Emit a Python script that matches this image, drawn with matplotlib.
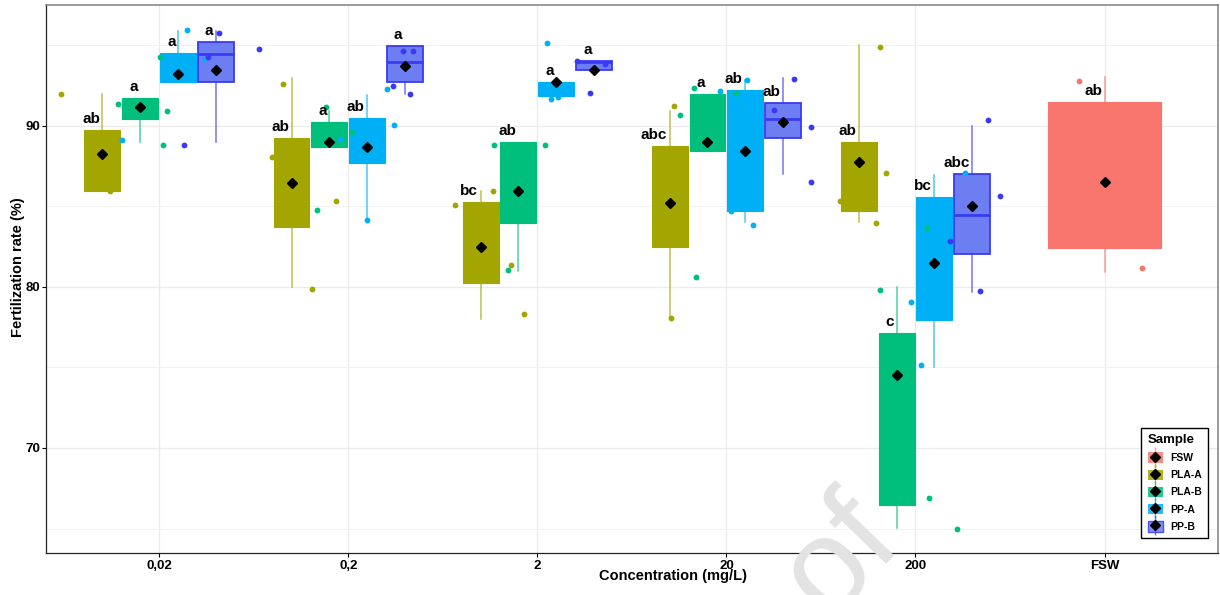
import matplotlib
matplotlib.use('Agg')
import matplotlib.pyplot as plt
from matplotlib.patches import Rectangle
from matplotlib.lines import Line2D
from matplotlib.legend_handler import HandlerTuple

plt.rcParams['font.family'] = ['Liberation Sans', 'DejaVu Sans']
plt.rcParams['font.weight'] = 'bold'

# ---------------- data ----------------
concentrations = ['0,02', '0,2', '2', '20', '200', 'FSW']
samples = ['PLA-A', 'PLA-B', 'PP-A', 'PP-B']
legend_order = ['FSW', 'PLA-A', 'PLA-B', 'PP-A', 'PP-B']

# box statistics for the 5 concentrations (0,02 .. 200)
whislo = {'PLA-A': [85.96, 80.02, 78.01, 78.06, 84.02],
          'PLA-B': [88.99, 88.70, 81.01, 88.45, 65.02],
          'PP-A':  [92.71, 84.16, 91.86, 84.02, 75.00],
          'PP-B':  [88.99, 91.99, 93.46, 87.00, 79.68]}
q1 = {'PLA-A': [85.96, 83.71, 80.23, 82.47, 84.73],
      'PLA-B': [90.43, 88.70, 83.96, 88.45, 66.47],
      'PP-A':  [92.71, 87.68, 91.86, 84.72, 77.96],
      'PP-B':  [92.71, 92.71, 93.46, 89.24, 82.04]}
med = {'PLA-A': [86.70, 86.50, 82.00, 85.00, 87.10],
       'PLA-B': [91.30, 89.00, 86.00, 89.00, 74.50],
       'PP-A':  [93.00, 88.70, 92.30, 88.50, 81.50],
       'PP-B':  [94.47, 93.99, 93.96, 90.43, 84.44]}
q3 = {'PLA-A': [89.75, 89.27, 85.28, 88.76, 89.03],
      'PLA-B': [91.72, 90.27, 88.99, 91.99, 77.14],
      'PP-A':  [94.52, 90.48, 92.71, 92.24, 85.56],
      'PP-B':  [95.20, 94.95, 94.02, 91.45, 87.00]}
whishi = {'PLA-A': [91.97, 92.96, 85.96, 90.93, 95.00],
          'PLA-B': [91.72, 90.95, 88.99, 91.99, 79.97],
          'PP-A':  [95.92, 91.93, 92.71, 92.84, 86.98],
          'PP-B':  [95.92, 94.95, 94.02, 92.96, 89.99]}
means = {'PLA-A': [88.24, 86.48, 82.48, 85.24, 87.74],
         'PLA-B': [91.20, 88.99, 85.98, 88.99, 74.51],
         'PP-A':  [93.21, 88.71, 92.71, 88.47, 81.50],
         'PP-B':  [93.46, 93.71, 93.46, 90.23, 85.02]}
letters = {'PLA-A': ['ab', 'ab', 'bc', 'abc', 'ab'],
           'PLA-B': ['a', 'a', 'ab', 'a', 'c'],
           'PP-A':  ['a', 'ab', 'a', 'ab', 'bc'],
           'PP-B':  ['a', 'a', 'a', 'ab', 'abc']}

# FSW control
fsw_stats = dict(whislo=80.92, q1=82.39, med=86.50, q3=91.50, whishi=93.02)
fsw_mean = 86.49
fsw_letter = 'ab'
fsw_points = [92.80, 81.17]
fsw_jitter = [-0.136, 0.199]

# individual (jittered) observations
points = {
    'PLA-A': [[91.97, 85.96], [92.59, 88.06, 85.36, 79.86], [85.09, 85.96, 81.37, 78.30],
              [91.26, 78.06], [94.91, 87.09, 85.33, 83.95]],
    'PLA-B': [[91.35, 90.95, 88.80, 94.29], [91.16, 89.61, 84.78], [88.84, 88.84, 81.06],
              [92.34, 90.68, 80.62, 92.05], [79.83, 66.89, 64.96, 83.64]],
    'PP-A':  [[95.96, 89.11, 94.14], [90.04, 84.14, 89.17, 92.32], [95.14, 91.66, 91.80],
              [92.84, 92.19, 83.85, 84.72], [79.08, 75.18, 87.07]],
    'PP-B':  [[95.76, 94.30, 88.80, 94.78], [94.66, 94.66, 92.47, 91.97], [94.04, 93.83, 92.07],
              [92.92, 90.98, 89.94, 86.50], [90.37, 85.65, 82.84, 79.72]],
}
jitter = {
    'PLA-A': [[-0.52, -0.262], [-0.347, -0.402, -0.065, -0.190], [-0.434, -0.236, -0.141, -0.069],
              [-0.276, -0.293], [-0.188, -0.158, -0.400, -0.211]],
    'PLA-B': [[-0.217, 0.039, 0.021, 0.007], [-0.120, 0.021, -0.167], [-0.228, 0.040, -0.157],
              [-0.173, -0.244, -0.160, 0.052], [-0.188, 0.072, 0.217, 0.062]],
    'PP-A':  [[0.145, -0.196, 0.242], [0.243, 0.100, -0.044, 0.205], [0.051, 0.072, 0.111],
              [0.108, -0.033, 0.142, 0.024], [-0.026, 0.029, 0.260]],
    'PP-B':  [[0.317, 0.259, 0.131, 0.527], [0.291, 0.341, 0.236, 0.325], [0.208, 0.359, 0.278],
              [0.355, 0.253, 0.448, 0.445], [0.384, 0.448, 0.182, 0.342]],
}

# ---------------- style ----------------
fill = {'FSW': '#F8766D', 'PLA-A': '#A3A500', 'PLA-B': '#00BF7D', 'PP-A': '#00B0F6', 'PP-B': '#6D7EF2'}
edge = {'FSW': '#F8766D', 'PLA-A': '#A3A500', 'PLA-B': '#00BF7D', 'PP-A': '#00B0F6', 'PP-B': '#3A3AF5'}
dot = {'FSW': '#F8766D', 'PLA-A': '#A3A500', 'PLA-B': '#00BF7D', 'PP-A': '#00B0F6', 'PP-B': '#3A3AF5'}
offsets = [-0.3, -0.1, 0.1, 0.3]
box_w = 0.19

fig = plt.figure(figsize=(12.2, 5.95), dpi=100, facecolor='white')
W, H = 1220, 595
ax = fig.add_axes([45.7 / W, (H - 553.3) / H, (1218 - 45.7) / W, (553.3 - 4.7) / H])

# watermark (drawn on top, partly outside the figure like in the reference)
fig.text(828 / W, 1 - 620 / H, 'of', rotation=46, rotation_mode='anchor', fontsize=94,
         color='#E3E3E3', ha='left', va='baseline', fontweight='normal',
         family='Liberation Sans', zorder=10)

base = list(range(1, len(concentrations)))  # 1..5

for k, s in enumerate(samples):
    stats = []
    pos = []
    for i in range(5):
        stats.append(dict(whislo=whislo[s][i], q1=q1[s][i], med=med[s][i],
                          q3=q3[s][i], whishi=whishi[s][i], fliers=[]))
        pos.append(base[i] + offsets[k])
    lw_edge = 1.3 if s == 'PP-B' else 0.8
    ax.bxp(stats, positions=pos, widths=box_w, patch_artist=True,
           showfliers=False, showcaps=False, manage_ticks=False,
           boxprops=dict(facecolor=fill[s], edgecolor=edge[s], linewidth=lw_edge),
           medianprops=dict(color=edge[s], linewidth=2.0 if s == 'PP-B' else 0.8),
           whiskerprops=dict(color=edge[s], linewidth=1.1, alpha=0.7),
           zorder=2)
    ax.plot(pos, means[s], linestyle='None', marker='D', color='black', markersize=5.5, zorder=5)
    for i in range(5):
        xs = [base[i] + j for j in jitter[s][i]]
        ax.plot(xs, points[s][i], linestyle='None', marker='o', color=dot[s],
                markersize=4.2, markeredgewidth=0, zorder=4)
        ax.annotate(letters[s][i], (pos[i], q3[s][i]), xytext=(-1.8, 5),
                    textcoords='offset points', ha='right', va='baseline',
                    fontsize=11, fontweight='bold', color='black', zorder=6)

# FSW
fpos = len(concentrations)
ax.bxp([dict(fsw_stats, fliers=[])], positions=[fpos], widths=0.6, patch_artist=True,
       showfliers=False, showcaps=False, manage_ticks=False,
       boxprops=dict(facecolor=fill['FSW'], edgecolor=edge['FSW'], linewidth=0.8),
       medianprops=dict(color=edge['FSW'], linewidth=0.8),
       whiskerprops=dict(color=edge['FSW'], linewidth=1.1, alpha=0.7), zorder=2)
ax.plot([fpos], [fsw_mean], linestyle='None', marker='D', color='black', markersize=5.5, zorder=5)
ax.plot([fpos + j for j in fsw_jitter], fsw_points, linestyle='None', marker='o',
        color=dot['FSW'], markersize=4.2, markeredgewidth=0, zorder=4)
ax.annotate(fsw_letter, (fpos, fsw_stats['q3']), xytext=(-1.8, 5), textcoords='offset points',
            ha='right', va='baseline', fontsize=11, fontweight='bold', zorder=6)

# axes
ax.set_xlim(0.4, 6.6)
ax.set_ylim(63.46, 97.53)
ax.set_xticks(range(1, len(concentrations) + 1))
ax.set_xticklabels(concentrations)
ax.set_yticks([70, 80, 90])
ax.set_yticks([65, 75, 85, 95], minor=True)
ax.tick_params(axis='both', which='major', labelsize=9.5, colors='black', length=3, width=0.8)
ax.tick_params(axis='y', which='major', pad=1)
ax.tick_params(axis='x', which='major', pad=1.5)
ax.tick_params(which='minor', length=0)
ax.grid(which='major', color='#EBEBEB', linewidth=0.9, zorder=0)
ax.grid(which='minor', axis='y', color='#F2F2F2', linewidth=0.7, zorder=0)
ax.set_axisbelow(True)
for sp in ['top', 'right']:
    ax.spines[sp].set_color('#808080')
    ax.spines[sp].set_linewidth(1.1)
for sp in ['left', 'bottom']:
    ax.spines[sp].set_color('#222222')
    ax.spines[sp].set_linewidth(0.9)

fig.text(673 / W, 1 - 576 / H, 'Concentration (mg/L)', ha='center', va='center',
         fontsize=10.5, fontweight='bold')
fig.text(18 / W, 1 - 267.5 / H, 'Fertilization rate (%)', ha='center', va='center',
         rotation=90, fontsize=10.5, fontweight='bold')

# legend
handles = []
for s in legend_order:
    rect = Rectangle((0, 0), 1, 1, facecolor=fill[s], edgecolor=edge[s],
                     linewidth=1.0 if s == 'PP-B' else 0, alpha=0.85)
    vline = Line2D([], [], linestyle='None', marker='|', markersize=14,
                   markeredgewidth=1.0, color=edge[s], alpha=0.7)
    dia = Line2D([], [], linestyle='None', marker='D', color='black', markersize=5)
    handles.append((rect, vline, dia))
leg = ax.legend(handles, legend_order, handler_map={tuple: HandlerTuple(ndivide=1, pad=0)},
                loc='lower right', bbox_to_anchor=(0.9915, 0.028), borderaxespad=0,
                title='Sample', fontsize=7.5, title_fontsize=9.5, fancybox=False,
                edgecolor='black', framealpha=1, handlelength=1.45, handleheight=1.2,
                labelspacing=0.6, handletextpad=0.7, borderpad=0.6)
leg.get_frame().set_linewidth(1.0)
leg._legend_box.align = 'left'
leg.get_title().set_fontweight('bold')

fig.savefig('out.png', dpi=100, facecolor='white')
